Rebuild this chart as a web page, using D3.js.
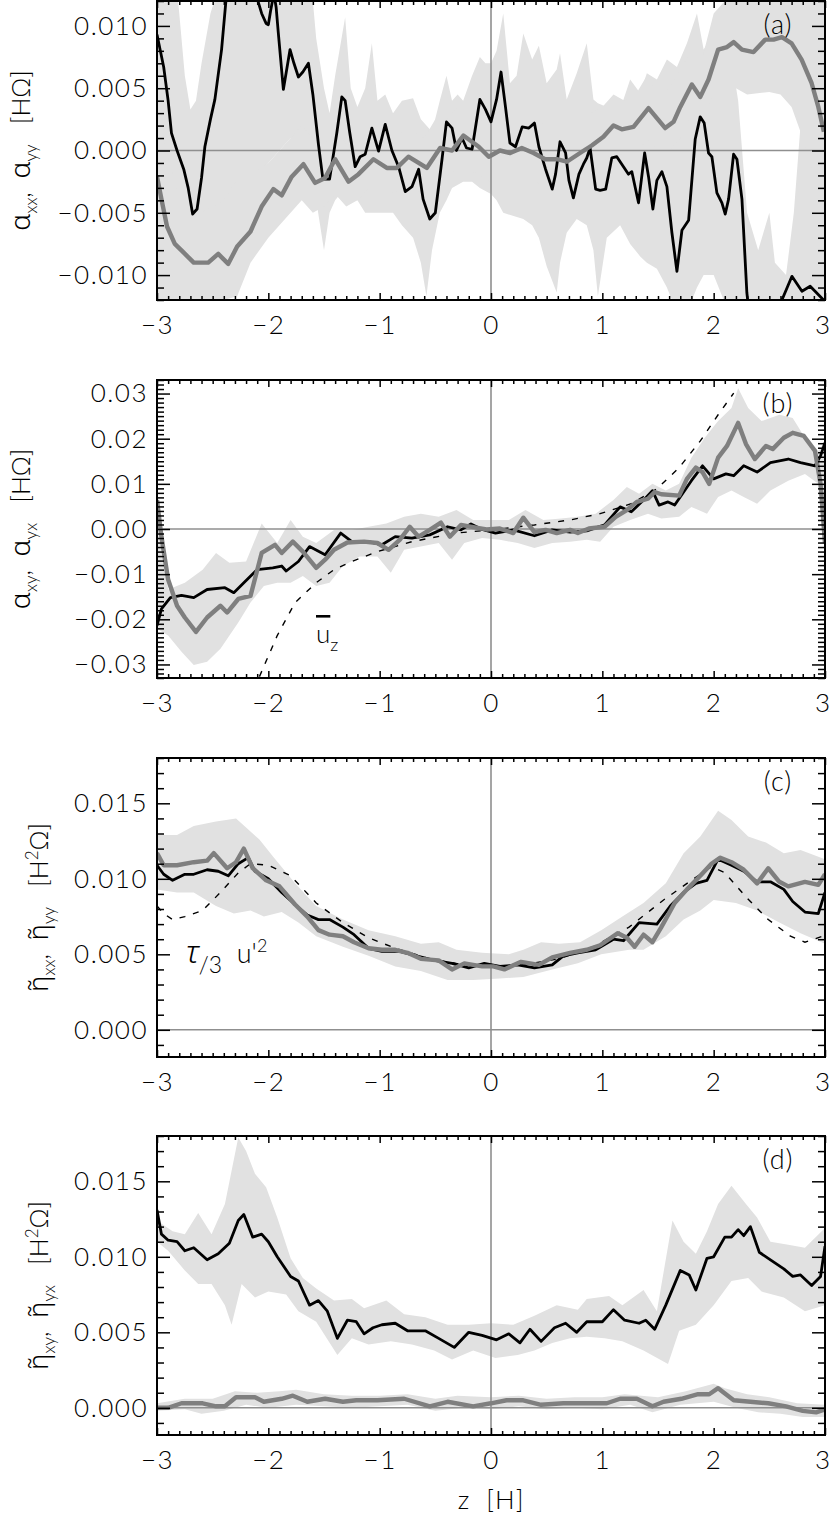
<!DOCTYPE html>
<html>
<head>
<meta charset="utf-8">
<script src="https://cdnjs.cloudflare.com/ajax/libs/d3/7.8.5/d3.min.js"></script>
<style>
  body { margin: 0; background: #fff; }
  svg text { font-family: Lato, "DejaVu Sans", sans-serif; font-weight: 300; fill: #000; }
  svg .greek { font-family: "Noto Sans", "DejaVu Sans", sans-serif; font-weight: 300; }
</style>
</head>
<body>
<div id="chart"></div>
<script>
// all curve values are in units of 1e-3 (tick labels show the real numbers)
var zTicks = [-3, -2, -1, 0, 1, 2, 3];
var zTickLabels = ["\u22123", "\u22122", "\u22121", "0", "1", "2", "3"];

var aTicks = [-10, -5, 0, 5, 10];
var aTickLabels = ["\u22120.010", "\u22120.005", "0.000", "0.005", "0.010"];
var bTicks = [-30, -20, -10, 0, 10, 20, 30];
var bTickLabels = ["\u22120.03", "\u22120.02", "\u22120.01", "0.00", "0.01", "0.02", "0.03"];
var cdTicks = [0, 5, 10, 15];
var cdTickLabels = ["0.000", "0.005", "0.010", "0.015"];

// panel (a): alpha_xx (black), alpha_yy (grey)
var aBlack = [[-3.0,9.3],[-2.97,8.0],[-2.94,6.7],[-2.9,4.0],[-2.87,1.4],[-2.82,0.0],[-2.76,-1.5],[-2.72,-3.0],[-2.68,-5.1],[-2.64,-4.7],[-2.6,-2.2],[-2.57,0.3],[-2.52,2.5],[-2.48,4.1],[-2.42,8.1],[-2.38,12.1],[-2.34,15],[-2.25,16],[-2.15,14],[-2.1,12.2],[-2.06,11.0],[-2.02,10.2],[-2.0,10.1],[-1.98,11.2],[-1.95,12.6],[-1.93,11.5],[-1.91,9.4],[-1.865,4.9],[-1.805,8.1],[-1.77,7.0],[-1.73,5.9],[-1.69,6.3],[-1.64,7.0],[-1.6,4.5],[-1.55,0.5],[-1.51,-2.3],[-1.45,-2.3],[-1.385,1.4],[-1.34,4.3],[-1.31,4.0],[-1.27,1.5],[-1.22,-1.3],[-1.175,-0.5],[-1.13,-0.3],[-1.07,1.8],[-1.01,-0.05],[-0.95,2.1],[-0.89,0.0],[-0.83,-1.3],[-0.77,-3.3],[-0.71,-2.9],[-0.65,-1.5],[-0.61,-3.9],[-0.55,-5.5],[-0.5,-5.0],[-0.44,-0.7],[-0.4,2.3],[-0.35,1.8],[-0.31,0.0],[-0.26,1.0],[-0.22,0.2],[-0.17,0.1],[-0.1,4.1],[-0.05,3.3],[0.0,2.3],[0.05,4.1],[0.09,6.3],[0.13,3.5],[0.17,0.6],[0.22,0.3],[0.28,1.9],[0.34,1.8],[0.39,2.2],[0.43,0.3],[0.49,-1.5],[0.55,-3.1],[0.58,-1.9],[0.62,0.7],[0.67,-0.2],[0.7,-2.4],[0.74,-3.8],[0.79,-1.9],[0.83,-1.1],[0.86,-0.6],[0.89,0.2],[0.94,-3.1],[0.98,-3.2],[1.03,-3.1],[1.085,-0.6],[1.13,-0.5],[1.19,-1.3],[1.235,-1.9],[1.265,-1.7],[1.325,-4.2],[1.38,-0.2],[1.415,-2.1],[1.454,-4.7],[1.49,-2.4],[1.535,-1.7],[1.58,-2.9],[1.625,-6.6],[1.67,-9.7],[1.715,-6.4],[1.775,-5.6],[1.834,0.9],[1.879,2.7],[1.915,2.2],[1.954,-0.2],[1.984,-0.5],[2.029,-3.4],[2.074,-4.2],[2.104,-5.1],[2.134,-3.9],[2.179,-0.3],[2.209,-0.7],[2.254,-3.9],[2.298,-11.4],[2.33,-14],[2.45,-16],[2.58,-14],[2.613,-12.0],[2.703,-10.1],[2.793,-11.3],[2.867,-10.9],[2.987,-12.0],[3.0,-12.2]];
var aGray = [[-3.0,-2.1],[-2.96,-3.9],[-2.91,-6.1],[-2.84,-7.5],[-2.76,-8.2],[-2.67,-9.0],[-2.54,-9.0],[-2.45,-8.3],[-2.36,-9.1],[-2.28,-7.7],[-2.16,-6.5],[-2.06,-4.5],[-1.955,-3.1],[-1.88,-3.6],[-1.79,-2.1],[-1.685,-1.1],[-1.58,-2.6],[-1.49,-2.2],[-1.4,-0.7],[-1.28,-2.5],[-1.19,-1.9],[-1.056,-0.7],[-0.936,-1.4],[-0.846,-1.4],[-0.742,-0.5],[-0.65,-1.0],[-0.577,-1.4],[-0.457,0.2],[-0.35,0.0],[-0.248,1.2],[-0.11,0.3],[-0.02,-0.5],[0.08,0.0],[0.172,-0.2],[0.277,0.2],[0.382,-0.2],[0.486,-0.7],[0.591,-0.7],[0.681,-0.9],[0.8,-0.2],[0.905,0.4],[1.01,1.1],[1.1,2.0],[1.175,1.7],[1.28,1.9],[1.415,3.4],[1.565,1.8],[1.64,2.3],[1.7,3.5],[1.804,5.3],[1.88,4.3],[1.954,5.7],[2.04,8.1],[2.12,8.3],[2.18,8.7],[2.254,8.1],[2.358,7.9],[2.463,8.9],[2.538,8.9],[2.613,9.1],[2.7,8.6],[2.79,7.3],[2.88,5.4],[2.94,3.5],[2.99,1.5]];
var aBlackHi = [[-3.0,14],[-2.9,14],[-2.82,13],[-2.75,6],[-2.7,3.3],[-2.65,4],[-2.6,7],[-2.52,11],[-2.45,13],[-2.4,14],[-1.62,14],[-1.57,9],[-1.5,5],[-1.45,3],[-1.4,6],[-1.31,10.7],[-1.26,5],[-1.2,3.5],[-1.13,5],[-1.07,8.6],[-1.02,4],[-0.95,4.5],[-0.88,3],[-0.8,4],[-0.7,4.2],[-0.63,2.5],[-0.58,2],[-0.53,1.5],[-0.46,4],[-0.4,6],[-0.35,4],[-0.3,4.5],[-0.25,4],[-0.17,6],[-0.1,7.5],[-0.05,7],[0.0,7],[0.05,8],[0.11,11],[0.17,5.4],[0.23,6],[0.29,9.4],[0.37,7.3],[0.43,8.4],[0.5,5.4],[0.59,6.5],[0.62,7.8],[0.68,4.1],[0.77,6.2],[0.86,8.6],[0.92,4.1],[0.96,3.8],[1.04,3.5],[1.16,3.3],[1.25,5.7],[1.34,4.6],[1.4,6.2],[1.49,5.7],[1.58,7.3],[1.67,6.7],[1.76,8.6],[1.85,11],[1.91,8.1],[2.0,9.4],[2.09,11],[2.15,8],[2.22,4],[2.3,-5],[2.4,-8],[2.5,-5],[2.55,-9],[2.65,-10],[2.72,-5],[2.78,2],[2.85,14],[3.0,14]];
var aBlackLo = [[-3.0,-14],[-2.6,-13],[-2.52,-11],[-2.45,-9],[-2.4,-6],[-2.3,-4],[-2.2,-3],[-2.1,-2],[-2.0,-1],[-1.9,0],[-1.8,1],[-1.7,0],[-1.62,-2],[-1.57,-4],[-1.5,-8],[-1.45,-5],[-1.4,-4],[-1.31,-3],[-1.26,-4],[-1.2,-4],[-1.13,-5],[-1.02,-5],[-0.88,-5],[-0.8,-6],[-0.7,-7],[-0.63,-9],[-0.58,-11.7],[-0.53,-8],[-0.46,-5],[-0.4,-4],[-0.35,-3],[-0.25,-2.5],[-0.17,-2.5],[-0.1,-3],[0.0,-3.5],[0.05,-4],[0.11,-5],[0.29,-5.5],[0.37,-6],[0.43,-7],[0.5,-9.3],[0.59,-11.4],[0.62,-9],[0.68,-6.6],[0.77,-5.5],[0.86,-6],[0.92,-8],[0.96,-11.7],[1.04,-7],[1.16,-6],[1.25,-7.5],[1.34,-8.5],[1.4,-9],[1.49,-9.5],[1.58,-11],[1.67,-13],[1.76,-13],[1.85,-11],[1.91,-10],[2.0,-10],[2.09,-12],[2.15,-13],[2.22,-14],[3.0,-14]];
var aGrayHi = [[-3.0,3],[-2.8,-4],[-2.6,-5],[-2.4,-4],[-2.28,-2.3],[-2.16,-2],[-2.0,-1],[-1.9,0],[-1.8,1],[-1.7,2],[-1.6,1],[-1.5,0.5],[-1.4,1.5],[-1.3,0.5],[-1.2,0.5],[-1.1,1.5],[-1.0,1],[-0.9,1],[-0.8,1.5],[-0.7,1.5],[-0.6,1],[-0.5,2.5],[-0.4,2.5],[-0.3,3.5],[-0.2,3],[-0.1,2.5],[0.0,2],[0.1,2.5],[0.4,2.5],[0.5,2],[0.7,2],[0.8,2.5],[0.9,3],[1.0,3.5],[1.1,4.5],[1.2,4],[1.3,4.5],[1.4,6],[1.5,4.5],[1.6,5],[1.7,6.5],[1.8,8],[1.9,7.5],[2.0,11],[2.1,12],[2.2,13],[2.3,14],[2.8,14],[2.9,12],[3.0,8]];
var aGrayLo = [[-3.0,-8],[-2.8,-11],[-2.6,-12],[-2.4,-12],[-2.28,-11.7],[-2.16,-9],[-2.0,-7],[-1.9,-6],[-1.8,-5],[-1.7,-4],[-1.6,-5],[-1.5,-4.5],[-1.4,-3.5],[-1.3,-4.5],[-1.2,-4],[-1.1,-3],[-1.0,-3.5],[-0.9,-3.5],[-0.8,-3],[-0.7,-3],[-0.6,-3.5],[-0.5,-2.5],[-0.4,-2],[-0.3,-1.5],[-0.2,-1.5],[-0.1,-2],[0.0,-2.5],[0.4,-2.5],[0.5,-3],[0.7,-3],[0.8,-2.5],[0.9,-2],[1.0,-1],[1.1,0],[1.2,-0.5],[1.3,-0.5],[1.4,1],[1.5,0],[1.6,0],[1.7,1],[1.8,3],[1.9,2.5],[2.0,4.5],[2.1,5],[2.2,5],[2.3,4.5],[2.5,4.7],[2.6,4.5],[2.7,3.5],[2.8,1],[2.9,-2],[3.0,-4]];

// panel (b): alpha_xy (black), alpha_yx (grey), mean u_z (dashed)
var bBlack = [[-3,-21.4],[-2.96,-17.7],[-2.88,-15.2],[-2.78,-14.7],[-2.67,-15.2],[-2.55,-13.4],[-2.39,-13.0],[-2.31,-14.1],[-2.22,-11.9],[-2.1,-9.0],[-1.96,-8.6],[-1.88,-8.2],[-1.84,-9.3],[-1.73,-7.2],[-1.63,-3.9],[-1.49,-5.7],[-1.35,-0.9],[-1.25,-2.8],[-1.1,-2.8],[-0.98,-3.5],[-0.86,-1.7],[-0.71,-2.0],[-0.55,-1.3],[-0.39,0.5],[-0.27,-0.2],[-0.18,1.1],[-0.08,-0.1],[0.04,-0.9],[0.2,-0.2],[0.39,-1.5],[0.55,-0.2],[0.71,-0.7],[0.86,-0.4],[1.02,0.9],[1.16,4.9],[1.26,3.8],[1.37,6.4],[1.45,8.5],[1.51,5.3],[1.59,6.0],[1.65,5.3],[1.8,10.7],[1.9,14.0],[2.0,11.1],[2.11,12.2],[2.18,11.8],[2.27,14.0],[2.39,12.6],[2.51,14.7],[2.67,15.5],[2.78,14.7],[2.91,14.0],[2.96,16.2],[3.0,19.1]];
var bGray = [[-3,6.4],[-2.96,-1.7],[-2.9,-11.2],[-2.82,-17.0],[-2.75,-19.6],[-2.65,-22.8],[-2.55,-19.6],[-2.43,-17.0],[-2.37,-18.5],[-2.27,-15.5],[-2.16,-14.8],[-2.06,-5.3],[-1.94,-3.5],[-1.88,-5.3],[-1.78,-2.8],[-1.69,-5.0],[-1.57,-8.6],[-1.49,-6.8],[-1.41,-4.6],[-1.29,-3.0],[-1.14,-2.8],[-1.02,-3.1],[-0.92,-4.6],[-0.82,-2.4],[-0.73,0.5],[-0.65,-1.7],[-0.55,-0.2],[-0.45,1.4],[-0.37,-1.7],[-0.27,0.9],[-0.16,0.4],[-0.04,-0.1],[0.08,0.1],[0.2,-0.9],[0.29,2.5],[0.39,-0.7],[0.49,-0.2],[0.59,-0.9],[0.71,-0.2],[0.78,-0.9],[0.88,0.1],[1.02,0.5],[1.12,2.7],[1.22,4.2],[1.31,6.0],[1.41,6.7],[1.47,8.2],[1.53,7.7],[1.69,7.4],[1.76,11.1],[1.84,13.6],[1.9,12.6],[1.96,10.0],[2.04,15.8],[2.12,18.4],[2.22,23.5],[2.29,18.8],[2.37,15.5],[2.47,18.4],[2.53,17.7],[2.63,20.2],[2.71,21.3],[2.81,20.6],[2.91,17.3],[2.96,10.0],[3.0,-3.1]];
var bDashed = [[-2.08,-32.7],[-1.92,-23.6],[-1.76,-16.3],[-1.57,-11.9],[-1.41,-9.0],[-1.25,-7.2],[-1.02,-5.0],[-0.71,-2.8],[-0.31,-0.9],[0.0,-0.2],[0.39,0.9],[0.71,2.0],[0.98,3.4],[1.26,5.6],[1.49,8.9],[1.69,13.6],[1.88,19.5],[2.04,25.3],[2.18,30.1]];
var bBandHi = [[-3,6.4],[-2.9,-13.4],[-2.75,-11.9],[-2.59,-9.0],[-2.47,-5.3],[-2.35,-7.5],[-2.2,-7.2],[-2.06,1.2],[-1.92,-3.1],[-1.8,2.0],[-1.69,-1.7],[-1.57,-3.1],[-1.41,-0.2],[-1.25,-0.2],[-1.1,0.5],[-0.94,1.2],[-0.78,2.7],[-0.63,3.4],[-0.47,2.7],[-0.31,4.2],[-0.16,2.0],[0.0,2.0],[0.16,2.0],[0.31,4.2],[0.47,2.0],[0.63,2.3],[0.78,2.7],[0.94,3.4],[1.1,6.4],[1.22,9.3],[1.33,7.8],[1.45,10.0],[1.57,8.5],[1.69,10.0],[1.8,15.8],[1.92,20.2],[2.04,23.9],[2.16,26.8],[2.22,31.2],[2.31,26.8],[2.43,23.9],[2.59,25.3],[2.71,24.6],[2.82,20.2],[2.94,17.3],[3.0,19.5]];
var bBandLo = [[-3,-22.1],[-2.9,-23.6],[-2.78,-27.2],[-2.67,-30.1],[-2.55,-29.4],[-2.43,-26.5],[-2.27,-20.7],[-2.16,-16.3],[-2.04,-12.6],[-1.92,-11.9],[-1.8,-11.9],[-1.69,-10.4],[-1.57,-12.6],[-1.45,-11.9],[-1.33,-8.2],[-1.18,-6.1],[-1.02,-6.1],[-0.9,-9.7],[-0.78,-4.6],[-0.63,-3.9],[-0.47,-3.1],[-0.35,-6.8],[-0.24,-3.1],[-0.08,-2.0],[0.08,-2.4],[0.24,-3.1],[0.39,-4.2],[0.55,-3.1],[0.71,-2.8],[0.86,-2.4],[0.98,-2.8],[1.1,0.5],[1.25,2.0],[1.41,3.4],[1.53,2.3],[1.69,2.7],[1.8,4.9],[1.94,3.4],[2.04,7.1],[2.16,8.5],[2.27,7.1],[2.39,5.6],[2.51,8.5],[2.67,10.7],[2.82,12.2],[2.94,10.0],[3.0,-3.9]];

// panel (c): eta_xx (black), eta_yy (grey), tau/3 u'^2 (dashed)
var cBlack = [[-3,10.9],[-2.94,10.3],[-2.86,9.9],[-2.75,10.3],[-2.67,10.3],[-2.55,10.6],[-2.45,10.5],[-2.36,10.2],[-2.27,11.0],[-2.18,11.4],[-2.12,10.5],[-2.0,10.0],[-1.88,9.1],[-1.76,8.3],[-1.65,7.6],[-1.55,7.3],[-1.45,7.3],[-1.33,6.8],[-1.23,6.3],[-1.1,5.4],[-0.98,5.2],[-0.82,5.2],[-0.67,4.9],[-0.51,4.6],[-0.35,4.4],[-0.2,4.1],[-0.06,4.4],[0.08,4.2],[0.24,4.3],[0.39,4.1],[0.55,4.3],[0.65,4.9],[0.78,5.1],[0.94,5.3],[1.1,6.0],[1.19,5.9],[1.33,7.1],[1.49,7.0],[1.61,8.2],[1.73,9.1],[1.84,9.7],[1.94,9.9],[2.04,11.3],[2.16,10.9],[2.27,10.5],[2.39,9.8],[2.51,9.8],[2.63,9.3],[2.71,8.5],[2.82,7.8],[2.94,7.7],[3.0,9.1]];
var cGray = [[-3,11.7],[-2.94,10.9],[-2.82,10.9],[-2.67,11.1],[-2.55,11.2],[-2.49,11.7],[-2.37,10.7],[-2.29,11.1],[-2.22,12.0],[-2.14,10.7],[-2.02,9.9],[-1.9,9.5],[-1.76,8.3],[-1.65,7.5],[-1.55,6.6],[-1.45,6.3],[-1.33,6.2],[-1.23,5.8],[-1.1,5.4],[-0.98,5.3],[-0.86,5.3],[-0.75,5.1],[-0.63,4.7],[-0.47,4.6],[-0.35,4.0],[-0.24,4.4],[-0.08,4.2],[0.02,4.2],[0.12,4.0],[0.27,4.5],[0.43,4.3],[0.55,4.8],[0.71,5.1],[0.86,5.3],[0.98,5.6],[1.14,6.4],[1.22,6.1],[1.29,5.5],[1.37,6.3],[1.45,5.8],[1.53,6.8],[1.65,8.4],[1.76,9.3],[1.88,10.2],[1.98,11.0],[2.06,11.4],[2.16,11.1],[2.27,10.6],[2.39,9.7],[2.49,10.7],[2.59,9.8],[2.67,9.5],[2.82,9.8],[2.94,9.6],[3.0,10.3]];
var cDashed = [[-3,8.2],[-2.94,7.7],[-2.86,7.3],[-2.75,7.5],[-2.59,7.9],[-2.43,9.1],[-2.27,10.4],[-2.16,11.0],[-2.0,10.9],[-1.8,10.2],[-1.57,8.4],[-1.33,7.1],[-1.1,6.1],[-0.86,5.4],[-0.55,4.7],[-0.24,4.3],[0.0,4.2],[0.29,4.3],[0.61,4.7],[0.92,5.5],[1.24,6.8],[1.55,8.6],[1.82,10.0],[1.98,10.8],[2.1,10.4],[2.29,8.8],[2.49,7.3],[2.69,6.2],[2.82,5.8],[2.98,6.2]];
var cBandHi = [[-3,12.9],[-2.82,12.9],[-2.67,13.5],[-2.47,13.8],[-2.29,14.0],[-2.2,13.4],[-2.08,12.6],[-1.96,11.5],[-1.76,9.7],[-1.57,8.2],[-1.33,7.3],[-1.1,6.6],[-0.86,6.2],[-0.63,5.7],[-0.47,5.8],[-0.31,5.3],[-0.08,5.1],[0.16,5.0],[0.29,5.3],[0.45,5.8],[0.61,5.7],[0.8,5.8],[0.99,6.6],[1.18,7.5],[1.37,8.4],[1.57,9.7],[1.73,11.7],[1.88,12.8],[2.04,14.5],[2.16,13.9],[2.31,12.8],[2.47,12.4],[2.63,11.7],[2.78,11.9],[3.0,11.3]];
var cBandLo = [[-3,9.3],[-2.82,9.1],[-2.67,9.1],[-2.47,8.2],[-2.31,7.7],[-2.16,7.9],[-2.04,7.5],[-1.88,7.8],[-1.73,7.1],[-1.57,6.2],[-1.33,5.5],[-1.1,4.9],[-0.86,4.2],[-0.63,3.9],[-0.39,3.3],[-0.16,3.3],[0.08,3.4],[0.29,3.5],[0.55,4.0],[0.78,4.4],[0.99,5.0],[1.24,5.3],[1.37,5.3],[1.57,6.2],[1.73,7.3],[1.88,7.9],[2.0,8.6],[2.2,8.4],[2.39,7.9],[2.59,7.1],[2.78,6.4],[3.0,5.7]];

// panel (d): eta_xy (black), eta_yx (grey)
var dBlack = [[-3,13.1],[-2.96,11.5],[-2.9,11.1],[-2.82,11.0],[-2.75,10.4],[-2.67,10.6],[-2.55,9.8],[-2.45,10.2],[-2.35,10.9],[-2.27,12.4],[-2.22,12.8],[-2.14,11.3],[-2.06,11.5],[-2.0,11.0],[-1.92,10.0],[-1.8,8.7],[-1.73,8.4],[-1.63,6.8],[-1.55,7.1],[-1.47,6.4],[-1.38,4.6],[-1.29,5.8],[-1.21,5.7],[-1.14,4.9],[-1.06,5.3],[-0.98,5.5],[-0.86,5.6],[-0.75,5.1],[-0.59,5.1],[-0.47,4.6],[-0.33,4.0],[-0.2,5.0],[-0.08,4.8],[0.05,4.5],[0.16,4.9],[0.26,4.3],[0.35,5.2],[0.45,4.4],[0.57,5.3],[0.67,5.6],[0.77,5.0],[0.86,5.7],[1.0,5.7],[1.1,6.5],[1.2,5.8],[1.33,5.6],[1.39,5.8],[1.47,5.2],[1.57,6.8],[1.7,9.1],[1.78,8.8],[1.84,7.8],[1.94,9.9],[2.0,10.0],[2.1,11.3],[2.16,11.3],[2.22,11.8],[2.27,11.4],[2.33,12.0],[2.41,10.3],[2.51,9.8],[2.63,9.2],[2.71,8.7],[2.78,8.8],[2.88,8.1],[2.96,8.7],[3.0,10.7]];
var dGray = [[-3,0.0],[-2.9,0.0],[-2.78,0.3],[-2.59,0.3],[-2.47,0.1],[-2.39,0.1],[-2.29,0.7],[-2.12,0.7],[-2.04,0.4],[-1.88,0.6],[-1.78,0.8],[-1.65,0.4],[-1.49,0.6],[-1.33,0.4],[-1.21,0.5],[-1.02,0.5],[-0.78,0.6],[-0.55,0.1],[-0.39,0.4],[-0.16,0.1],[0.0,0.3],[0.14,0.5],[0.29,0.5],[0.45,0.2],[0.65,0.3],[0.84,0.3],[1.04,0.3],[1.16,0.6],[1.31,0.6],[1.45,0.1],[1.55,0.4],[1.71,0.6],[1.86,0.9],[1.96,0.9],[2.04,1.3],[2.18,0.5],[2.33,0.4],[2.49,0.3],[2.65,0.1],[2.8,-0.2],[2.92,-0.3],[3.0,-0.1]];
var dBlackHi = [[-3,12.4],[-2.86,11.7],[-2.75,11.5],[-2.63,12.9],[-2.51,11.5],[-2.39,13.5],[-2.27,17.9],[-2.2,17.0],[-2.12,15.5],[-2.02,14.6],[-1.92,12.6],[-1.8,9.9],[-1.69,8.6],[-1.57,7.9],[-1.41,7.1],[-1.25,7.2],[-1.14,6.6],[-0.94,7.1],[-0.78,6.2],[-0.59,6.0],[-0.39,5.5],[-0.2,5.5],[0.0,5.6],[0.2,5.5],[0.39,6.1],[0.59,6.8],[0.78,6.5],[0.86,7.2],[1.06,7.4],[1.18,6.8],[1.37,7.8],[1.49,6.4],[1.63,12.4],[1.73,11.0],[1.84,10.2],[1.94,11.7],[2.04,13.5],[2.16,14.7],[2.29,13.5],[2.39,12.6],[2.51,11.0],[2.67,10.8],[2.82,10.6],[3.0,11.9]];
var dBlackLo = [[-3,11.0],[-2.9,10.4],[-2.75,9.1],[-2.63,8.2],[-2.51,8.2],[-2.39,6.8],[-2.33,5.5],[-2.24,8.2],[-2.12,7.3],[-2.0,7.7],[-1.84,7.5],[-1.73,6.4],[-1.57,5.7],[-1.38,3.5],[-1.25,4.6],[-1.1,4.2],[-0.9,4.4],[-0.71,4.2],[-0.51,3.8],[-0.35,3.2],[-0.16,3.8],[0.04,3.3],[0.24,3.5],[0.39,3.8],[0.55,4.3],[0.71,4.6],[0.86,4.7],[1.02,4.6],[1.18,4.4],[1.37,3.8],[1.59,2.9],[1.69,5.1],[1.84,5.5],[2.0,6.8],[2.16,8.4],[2.31,8.6],[2.43,7.7],[2.63,7.3],[2.82,6.4],[3.0,6.8]];
var dGrayHi = [[-3,0.3],[-2.75,0.6],[-2.5,0.6],[-2.3,1.1],[-2.1,1.0],[-1.9,1.1],[-1.75,1.2],[-1.5,0.9],[-1.25,0.8],[-1.0,0.8],[-0.75,0.9],[-0.5,0.6],[-0.3,0.8],[0.0,0.7],[0.25,0.8],[0.5,0.6],[0.75,0.7],[1.0,0.7],[1.2,0.9],[1.5,0.7],[1.75,1.1],[2.0,1.6],[2.1,1.3],[2.3,0.9],[2.5,0.7],[2.75,0.3],[3.0,0.2]];
var dGrayLo = [[-3,-0.2],[-2.75,-0.1],[-2.6,-0.4],[-2.4,-0.2],[-2.2,0.2],[-2.0,0.0],[-1.75,0.2],[-1.5,0.1],[-1.25,0.0],[-1.0,0.1],[-0.75,0.2],[-0.5,-0.2],[-0.25,0.0],[0.0,-0.1],[0.25,0.1],[0.5,-0.1],[0.75,0.0],[1.0,-0.1],[1.25,0.2],[1.45,-0.3],[1.7,0.2],[2.0,0.4],[2.2,0.0],[2.4,-0.3],[2.6,-0.4],[2.8,-0.6],[3.0,-0.6]];

var width = 831, height = 1517;
var left = 157, right = 825;
var bandColor = "#e1e1e1";

var svg = d3.select("#chart").append("svg")
  .attr("width", width)
  .attr("height", height);

var x = d3.scaleLinear().domain([-3, 3]).range([left, right]);
var xMinor = d3.range(-30, 31).filter(function (i) { return i % 10 !== 0; }).map(function (i) { return i / 10; });

var panels = [
  { id: "a", top: 1, bottom: 300, domain: [-12, 12], ticks: aTicks, labels: aTickLabels,
    bands: [[aBlackHi, aBlackLo], [aGrayHi, aGrayLo]], black: aBlack, gray: aGray, dashed: null,
    ylab: [["\u03b1", "xx"], ["\u03b1", "yy"]], unit: "HΩ", labX: 30 },
  { id: "b", top: 380, bottom: 678, domain: [-33, 33], ticks: bTicks, labels: bTickLabels,
    bands: [[bBandHi, bBandLo]], black: bBlack, gray: bGray, dashed: bDashed,
    ylab: [["\u03b1", "xy"], ["\u03b1", "yx"]], unit: "HΩ", labX: 30 },
  { id: "c", top: 758, bottom: 1057, domain: [-1.8, 18], ticks: cdTicks, labels: cdTickLabels,
    bands: [[cBandHi, cBandLo]], black: cBlack, gray: cGray, dashed: cDashed,
    ylab: [["\u03b7\u0303", "xx"], ["\u03b7\u0303", "yy"]], unit: "H2Ω", labX: 48 },
  { id: "d", top: 1136, bottom: 1435, domain: [-1.8, 18], ticks: cdTicks, labels: cdTickLabels,
    bands: [[dBlackHi, dBlackLo], [dGrayHi, dGrayLo]], black: dBlack, gray: dGray, dashed: null,
    ylab: [["\u03b7\u0303", "xy"], ["\u03b7\u0303", "yx"]], unit: "H2Ω", labX: 48 }
];

panels.forEach(drawPanel);

// x axis title
svg.append("text")
  .attr("x", x(0))
  .attr("y", 1509)
  .attr("text-anchor", "middle")
  .style("font-size", "26px")
  .style("letter-spacing", "1px")
  .style("white-space", "pre")
  .text("z  [H]");

function drawPanel(p) {
  var y = d3.scaleLinear().domain(p.domain).range([p.bottom, p.top]);
  var g = svg.append("g").attr("class", "panel-" + p.id);

  g.append("clipPath").attr("id", "clip-" + p.id)
    .append("rect")
    .attr("x", left).attr("y", p.top)
    .attr("width", right - left).attr("height", p.bottom - p.top);

  var plot = g.append("g").attr("clip-path", "url(#clip-" + p.id + ")");
  var line = d3.line().x(function (d) { return x(d[0]); }).y(function (d) { return y(d[1]); });

  p.bands.forEach(function (b) {
    var pts = b[0].concat(b[1].slice().reverse());
    plot.append("path").attr("d", line(pts) + "Z").attr("fill", bandColor);
  });

  // zero lines
  plot.append("line")
    .attr("x1", left).attr("x2", right).attr("y1", y(0)).attr("y2", y(0))
    .attr("stroke", "#8f8f8f").attr("stroke-width", 1.6);
  plot.append("line")
    .attr("x1", x(0)).attr("x2", x(0)).attr("y1", p.top).attr("y2", p.bottom)
    .attr("stroke", "#8f8f8f").attr("stroke-width", 1.6);

  if (p.dashed) {
    plot.append("path").attr("d", line(p.dashed))
      .attr("fill", "none").attr("stroke", "#000")
      .attr("stroke-width", 1.4).attr("stroke-dasharray", "6,8");
  }
  plot.append("path").attr("d", line(p.black))
    .attr("fill", "none").attr("stroke", "#000")
    .attr("stroke-width", 2.8).attr("stroke-linejoin", "round");
  plot.append("path").attr("d", line(p.gray))
    .attr("fill", "none").attr("stroke", "#7f7f7f")
    .attr("stroke-width", 4.4).attr("stroke-linejoin", "round");

  // frame
  g.append("rect")
    .attr("x", left).attr("y", p.top)
    .attr("width", right - left).attr("height", p.bottom - p.top)
    .attr("fill", "none").attr("stroke", "#000").attr("stroke-width", 2);

  var yMinor = d3.range(Math.ceil(p.domain[0]), Math.floor(p.domain[1]) + 1)
    .filter(function (v) { return p.ticks.indexOf(v) < 0; });

  addAxis(g, d3.axisLeft(y).tickValues(p.ticks).tickSizeInner(-13).tickSizeOuter(0).tickPadding(9)
    .tickFormat(function (d, i) { return p.labels[i]; }), "translate(" + left + ",0)");
  addAxis(g, d3.axisLeft(y).tickValues(yMinor).tickSizeInner(-7).tickSizeOuter(0).tickFormat(""),
    "translate(" + left + ",0)");
  addAxis(g, d3.axisRight(y).tickValues(p.ticks).tickSizeInner(-13).tickSizeOuter(0).tickFormat(""),
    "translate(" + right + ",0)");
  addAxis(g, d3.axisRight(y).tickValues(yMinor).tickSizeInner(-7).tickSizeOuter(0).tickFormat(""),
    "translate(" + right + ",0)");

  var xb = addAxis(g, d3.axisBottom(x).tickValues(zTicks).tickSizeInner(-7).tickSizeOuter(0)
    .tickFormat(function (d, i) { return zTickLabels[i]; }), "translate(0," + p.bottom + ")");
  xb.selectAll("text").attr("y", 34).attr("dy", null);
  // keep the last label inside the page, as in the reference
  xb.selectAll("text").filter(function (d) { return d === 3; })
    .attr("text-anchor", "end").attr("x", 6);
  addAxis(g, d3.axisBottom(x).tickValues(xMinor).tickSizeInner(-4).tickSizeOuter(0).tickFormat(""),
    "translate(0," + p.bottom + ")");
  addAxis(g, d3.axisTop(x).tickValues(zTicks).tickSizeInner(-7).tickSizeOuter(0).tickFormat(""),
    "translate(0," + p.top + ")");
  addAxis(g, d3.axisTop(x).tickValues(xMinor).tickSizeInner(-4).tickSizeOuter(0).tickFormat(""),
    "translate(0," + p.top + ")");

  // panel tag
  g.append("text")
    .attr("x", 778).attr("y", p.top + 33)
    .attr("text-anchor", "middle")
    .style("font-size", "27px")
    .style("letter-spacing", "1px")
    .text("(" + p.id + ")");

  // y axis title
  var cy = (p.top + p.bottom) / 2;
  var t = g.append("text")
    .attr("transform", "translate(" + p.labX + "," + cy + ") rotate(-90)")
    .attr("text-anchor", "middle")
    .style("font-size", "25px")
    .style("white-space", "pre");
  p.ylab.forEach(function (s, i) {
    t.append("tspan").attr("class", "greek").attr("dy", 0).style("font-size", "28px").text(s[0]);
    t.append("tspan").attr("dy", 7).style("font-size", "17px").text(s[1]);
    if (i === 0) t.append("tspan").attr("dy", -7).text(",  ");
  });
  if (p.unit === "HΩ") {
    t.append("tspan").attr("dy", -7).text("   [HΩ]");
  } else {
    t.append("tspan").attr("dy", -7).text("   [H");
    t.append("tspan").attr("dy", -10).style("font-size", "17px").text("2");
    t.append("tspan").attr("dy", 10).text("Ω]");
  }

  if (p.id === "b") {
    var u = g.append("text").attr("x", 316).attr("y", 643).style("font-size", "26px");
    u.append("tspan").style("text-decoration", "overline").text("u");
    u.append("tspan").attr("dy", 8).style("font-size", "18px").text("z");
  }
  if (p.id === "c") {
    var tau = g.append("text").attr("x", 186).attr("y", 963).style("font-size", "27px").style("white-space", "pre");
    tau.append("tspan").attr("class", "greek").style("font-size", "32px").style("font-style", "italic").text("\u03c4");
    tau.append("tspan").attr("dy", 10).style("font-size", "23px").text("/3");
    tau.append("tspan").attr("dy", -10).text("  u'");
    tau.append("tspan").attr("dy", -11).style("font-size", "18px").text("2");
  }
}

function addAxis(g, axis, transform) {
  var a = g.append("g").attr("transform", transform).call(axis);
  a.attr("font-size", null).attr("font-family", null);
  a.select(".domain").remove();
  a.selectAll(".tick line").attr("stroke", "#000").attr("stroke-width", 1.5);
  a.selectAll("text").style("font-size", "26px").style("letter-spacing", "1.5px").attr("fill", "#000");
  return a;
}
</script>
</body>
</html>
